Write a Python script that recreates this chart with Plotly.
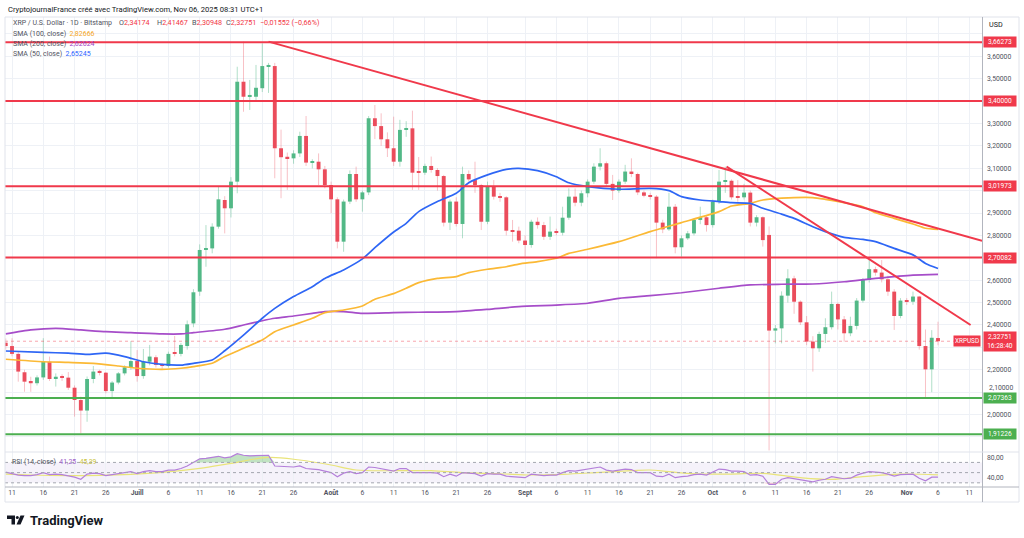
import plotly.graph_objects as go
import pandas as pd

# ---------------- data ----------------
dates = pd.date_range("2025-06-10", "2025-11-06", freq="D")

opens = [
    2.321, 2.306, 2.271, 2.189, 2.150, 2.140, 2.166, 2.236, 2.159, 2.172, 2.165, 2.120, 2.065, 2.018, 2.159, 2.195, 2.187, 2.105, 2.143, 2.184, 2.211,
    2.239, 2.172, 2.236, 2.256, 2.222, 2.217, 2.277, 2.271, 2.306, 2.407, 2.549, 2.735, 2.742, 2.839, 2.958, 2.921, 3.040, 3.486, 3.419, 3.419, 3.457, 3.556, 3.556, 3.189, 3.151, 3.144, 3.166, 3.244, 3.125, 3.129, 3.095,
    3.025, 2.961, 2.772, 2.951, 3.074, 2.961, 2.992, 3.323, 3.288, 3.229, 3.189, 3.129, 3.271, 3.278, 3.085, 3.080, 3.110, 3.092, 3.065, 2.857, 2.951, 2.851, 3.074, 3.047, 3.025, 2.861, 3.018, 2.973, 2.970, 2.821, 2.821,
    2.777, 2.757, 2.861, 2.846, 2.794, 2.817, 2.812, 2.879, 2.973, 2.946, 2.988, 3.040, 3.107, 3.122, 3.030, 3.000, 3.040, 3.085, 3.074, 2.992, 2.977, 2.973, 2.857, 2.827, 2.928, 2.747, 2.787, 2.809, 2.869, 2.881,
    2.846, 2.951, 3.040, 3.044, 2.973, 2.970, 2.991, 2.857, 2.881, 2.802, 2.375, 2.385, 2.531, 2.608, 2.504, 2.412, 2.326, 2.296, 2.360, 2.390, 2.494, 2.425, 2.363, 2.396, 2.509, 2.601, 2.649, 2.634, 2.604, 2.549, 2.440,
    2.509, 2.504, 2.527, 2.306, 2.202, 2.34174,
]
highs = [
    2.340, 2.341, 2.280, 2.200, 2.169, 2.175, 2.341, 2.259, 2.184, 2.180, 2.190, 2.130, 2.080, 2.170, 2.217, 2.200, 2.190, 2.150, 2.190, 2.220, 2.328,
    2.288, 2.293, 2.311, 2.265, 2.230, 2.281, 2.351, 2.320, 2.420, 2.560, 2.760, 2.846, 2.854, 3.018, 2.975, 3.060, 3.553, 3.665, 3.494, 3.561, 3.657, 3.570, 3.570, 3.272, 3.170, 3.180, 3.263, 3.333, 3.140, 3.166, 3.110,
    3.040, 2.970, 2.960, 3.090, 3.107, 3.000, 3.333, 3.382, 3.345, 3.260, 3.330, 3.316, 3.310, 3.357, 3.150, 3.120, 3.152, 3.100, 3.070, 2.960, 2.970, 3.107, 3.090, 3.129, 3.030, 3.040, 3.047, 2.990, 2.975, 2.869, 2.839,
    2.800, 2.870, 2.880, 2.860, 2.884, 2.830, 2.928, 3.010, 3.010, 3.000, 3.050, 3.122, 3.189, 3.130, 3.070, 3.050, 3.115, 3.144, 3.080, 3.000, 2.990, 2.980, 2.870, 2.990, 2.940, 2.800, 2.820, 2.875, 2.928, 2.890,
    2.960, 3.092, 3.107, 3.050, 3.047, 3.030, 3.000, 2.890, 2.885, 2.840, 2.400, 2.550, 2.649, 2.620, 2.510, 2.440, 2.350, 2.370, 2.430, 2.549, 2.500, 2.440, 2.437, 2.520, 2.610, 2.690, 2.660, 2.690, 2.620, 2.560, 2.520,
    2.520, 2.549, 2.530, 2.380, 2.377, 2.41467,
]
lows = [
    2.290, 2.260, 2.147, 2.102, 2.102, 2.130, 2.155, 2.150, 2.125, 2.150, 2.110, 1.991, 1.916, 1.968, 2.140, 2.175, 2.095, 2.077, 2.135, 2.175, 2.200,
    2.147, 2.160, 2.220, 2.210, 2.205, 2.210, 2.260, 2.260, 2.290, 2.390, 2.530, 2.660, 2.720, 2.830, 2.809, 2.880, 2.988, 3.352, 3.360, 3.397, 3.440, 3.436, 3.055, 2.966, 3.003, 3.120, 3.150, 3.110, 3.099, 3.025, 3.010,
    2.899, 2.742, 2.727, 2.940, 2.950, 2.906, 2.980, 3.230, 3.200, 3.150, 3.110, 3.107, 3.240, 3.003, 3.003, 3.070, 3.080, 3.000, 2.840, 2.824, 2.840, 2.787, 3.040, 2.990, 2.824, 2.850, 2.960, 2.950, 2.800, 2.772, 2.765,
    2.705, 2.745, 2.830, 2.780, 2.780, 2.800, 2.800, 2.870, 2.930, 2.930, 2.970, 3.030, 3.090, 3.020, 2.958, 2.990, 3.030, 3.060, 2.980, 2.970, 2.960, 2.698, 2.810, 2.820, 2.720, 2.705, 2.780, 2.800, 2.850, 2.817,
    2.835, 2.940, 2.990, 2.960, 2.950, 2.960, 2.840, 2.840, 2.750, 1.840, 2.318, 2.318, 2.500, 2.450, 2.400, 2.310, 2.192, 2.280, 2.320, 2.380, 2.380, 2.326, 2.350, 2.380, 2.500, 2.590, 2.620, 2.590, 2.530, 2.378, 2.430,
    2.490, 2.490, 2.290, 2.073, 2.100, 2.30948,
]
closes = [
    2.306, 2.271, 2.192, 2.147, 2.140, 2.166, 2.236, 2.159, 2.169, 2.165, 2.120, 2.065, 2.018, 2.159, 2.192, 2.187, 2.105, 2.143, 2.184, 2.211, 2.239,
    2.172, 2.236, 2.259, 2.222, 2.217, 2.271, 2.274, 2.311, 2.403, 2.546, 2.735, 2.742, 2.839, 2.961, 2.921, 3.040, 3.486, 3.419, 3.427, 3.459, 3.556, 3.561, 3.189, 3.149, 3.144, 3.166, 3.244, 3.125, 3.129, 3.095, 3.025,
    2.961, 2.772, 2.951, 3.074, 2.961, 2.992, 3.323, 3.288, 3.229, 3.189, 3.129, 3.271, 3.278, 3.080, 3.080, 3.110, 3.092, 3.065, 2.857, 2.951, 2.851, 3.074, 3.050, 3.025, 2.861, 3.018, 2.973, 2.970, 2.821, 2.817, 2.777,
    2.757, 2.861, 2.846, 2.794, 2.817, 2.812, 2.879, 2.973, 2.946, 2.988, 3.040, 3.107, 3.122, 3.030, 3.000, 3.040, 3.085, 3.074, 2.992, 2.977, 2.973, 2.857, 2.827, 2.928, 2.747, 2.787, 2.809, 2.869, 2.881, 2.846,
    2.951, 3.040, 3.044, 2.970, 2.970, 2.991, 2.857, 2.881, 2.779, 2.375, 2.385, 2.531, 2.608, 2.504, 2.412, 2.326, 2.296, 2.360, 2.390, 2.494, 2.425, 2.363, 2.396, 2.509, 2.601, 2.649, 2.634, 2.604, 2.549, 2.440, 2.509,
    2.504, 2.527, 2.306, 2.202, 2.34303, 2.32751,
]
rsi = [
    51, 48, 45, 44, 44, 46, 50, 46, 47, 46, 44, 41, 37, 47, 49, 48, 44, 46, 48, 50, 52,
    48, 52, 54, 52, 52, 55, 55, 58, 63, 70, 77, 78, 80, 82, 79, 81, 87, 84, 83, 83, 84, 84, 63, 62, 61, 61, 63, 58, 57, 56, 53,
    50, 42, 49, 52, 48, 50, 61, 60, 58, 56, 53, 58, 58, 50, 50, 51, 50, 49, 42, 47, 43, 50, 49, 48, 43, 48, 47, 47, 43, 42, 41,
    40, 47, 46, 44, 45, 45, 50, 54, 53, 55, 57, 60, 61, 55, 53, 55, 57, 56, 50, 50, 50, 43, 42, 47, 40, 42, 43, 46, 47, 45,
    51, 57, 56, 53, 53, 52, 45, 46, 43, 27, 27, 37, 40, 38, 35, 33, 32, 35, 37, 42, 40, 38, 39, 45, 49, 52, 51, 50, 47, 43, 46,
    46, 47, 39, 34, 41, 41.25,
]

rsi_ma_dates = ["2025-06-10", "2025-06-14", "2025-06-20", "2025-06-25", "2025-06-30", "2025-07-05", "2025-07-11",
                "2025-07-16", "2025-07-22", "2025-07-27", "2025-08-01", "2025-08-05", "2025-08-12", "2025-08-17",
                "2025-08-22", "2025-08-28", "2025-09-02", "2025-09-07", "2025-09-13", "2025-09-18", "2025-09-21",
                "2025-09-24", "2025-09-29", "2025-10-04", "2025-10-09", "2025-10-15", "2025-10-20", "2025-10-25",
                "2025-10-31", "2025-11-06"]
rsi_ma = [47.2, 45.3, 44.0, 44.6, 46.6, 50.5, 58.4, 68.2, 79.9, 74.7, 64.9, 55.1, 53.8, 53.8, 49.9, 47.8, 45.3,
          46.6, 50.5, 53.8, 55.1, 51.8, 47.2, 47.2, 48.5, 40.0, 36.8, 42.0, 47.2, 45.39]

sma50_dates = ["2025-06-10", "2025-06-16", "2025-06-20", "2025-06-23", "2025-06-26", "2025-06-29", "2025-07-02",
               "2025-07-05", "2025-07-08", "2025-07-10", "2025-07-13", "2025-07-15", "2025-07-18", "2025-07-21",
               "2025-07-23", "2025-07-26", "2025-07-29", "2025-07-31", "2025-08-03", "2025-08-06", "2025-08-08",
               "2025-08-11", "2025-08-13", "2025-08-15", "2025-08-18", "2025-08-21", "2025-08-23", "2025-08-26",
               "2025-08-29", "2025-08-31", "2025-09-03", "2025-09-06", "2025-09-08", "2025-09-11", "2025-09-16",
               "2025-09-21", "2025-09-24", "2025-09-26", "2025-09-29", "2025-10-02", "2025-10-04", "2025-10-07",
               "2025-10-09", "2025-10-12", "2025-10-14", "2025-10-17", "2025-10-19", "2025-10-22", "2025-10-25",
               "2025-10-27", "2025-10-30", "2025-11-02", "2025-11-04", "2025-11-06"]
sma50 = [2.284, 2.278, 2.274, 2.269, 2.274, 2.259, 2.236, 2.224, 2.221, 2.229, 2.244, 2.285, 2.355, 2.430, 2.474,
         2.527, 2.571, 2.608, 2.646, 2.695, 2.745, 2.815, 2.854, 2.906, 2.951, 2.988, 3.035, 3.070, 3.095, 3.099,
         3.089, 3.062, 3.035, 3.018, 3.006, 3.010, 3.000, 2.973, 2.958, 2.951, 2.946, 2.943, 2.921, 2.895, 2.876,
         2.839, 2.817, 2.791, 2.782, 2.772, 2.742, 2.713, 2.675, 2.65245]

sma100_dates = ["2025-06-10", "2025-06-16", "2025-06-20", "2025-06-24", "2025-06-28", "2025-07-01", "2025-07-05",
                "2025-07-08", "2025-07-10", "2025-07-13", "2025-07-15", "2025-07-18", "2025-07-21", "2025-07-23",
                "2025-07-26", "2025-07-29", "2025-07-31", "2025-08-03", "2025-08-06", "2025-08-08", "2025-08-11",
                "2025-08-13", "2025-08-15", "2025-08-18", "2025-08-21", "2025-08-23", "2025-08-26", "2025-08-29",
                "2025-08-31", "2025-09-03", "2025-09-06", "2025-09-08", "2025-09-11", "2025-09-16", "2025-09-21",
                "2025-09-26", "2025-10-02", "2025-10-04", "2025-10-07", "2025-10-09", "2025-10-12", "2025-10-14",
                "2025-10-17", "2025-10-19", "2025-10-22", "2025-10-25", "2025-10-27", "2025-10-30", "2025-11-02",
                "2025-11-04", "2025-11-06"]
sma100 = [2.247, 2.236, 2.233, 2.229, 2.217, 2.207, 2.202, 2.207, 2.214, 2.229, 2.259, 2.296, 2.333, 2.370, 2.400,
          2.430, 2.455, 2.467, 2.485, 2.515, 2.540, 2.564, 2.589, 2.608, 2.616, 2.634, 2.649, 2.660, 2.672, 2.683,
          2.698, 2.720, 2.738, 2.772, 2.817, 2.857, 2.906, 2.931, 2.943, 2.958, 2.966, 2.969, 2.969, 2.961, 2.946,
          2.928, 2.901, 2.876, 2.851, 2.832, 2.82666]

sma200_dates = ["2025-06-10", "2025-06-14", "2025-06-18", "2025-06-22", "2025-06-26", "2025-06-30", "2025-07-05",
                "2025-07-08", "2025-07-10", "2025-07-15", "2025-07-18", "2025-07-21", "2025-07-23", "2025-07-26",
                "2025-07-29", "2025-07-31", "2025-08-03", "2025-08-06", "2025-08-11", "2025-08-15", "2025-08-21",
                "2025-08-26", "2025-08-31", "2025-09-06", "2025-09-11", "2025-09-16", "2025-09-21", "2025-09-26",
                "2025-10-02", "2025-10-07", "2025-10-12", "2025-10-17", "2025-10-22", "2025-10-27", "2025-11-02",
                "2025-11-06"]
sma200 = [2.360, 2.378, 2.385, 2.378, 2.370, 2.366, 2.360, 2.360, 2.366, 2.381, 2.400, 2.419, 2.430, 2.440, 2.452,
          2.460, 2.460, 2.452, 2.455, 2.457, 2.460, 2.470, 2.482, 2.489, 2.497, 2.519, 2.531, 2.544, 2.564, 2.579,
          2.582, 2.583, 2.593, 2.608, 2.623, 2.62624]

red_levels = [3.66273, 3.40000, 3.01973, 2.70082]
green_levels = [2.07363, 1.91226]
trend_starts = [("2025-07-22", 3.665), ("2025-10-03 05:00", 3.107)]
trend_ends = [("2025-11-13 01:00", 2.776), ("2025-11-11 05:00", 2.400)]

last_price = 2.32751
price_ticks = [3.7, 3.6, 3.5, 3.4, 3.3, 3.2, 3.1, 3.0, 2.9, 2.8, 2.7, 2.6, 2.5, 2.4, 2.3, 2.2, 2.1, 2.0, 1.9]
hidden_ticks = [3.7, 3.4, 3.0, 2.7, 2.3, 2.1, 1.9]  # covered by (or crowded by) the price tags
nudged_ticks = [2.1]  # partly visible above the 2,07363 tag
time_tick_dates = ["2025-06-11", "2025-06-16", "2025-06-21", "2025-06-26", "2025-07-01", "2025-07-06", "2025-07-11",
                   "2025-07-16", "2025-07-21", "2025-07-26", "2025-08-01", "2025-08-06", "2025-08-11", "2025-08-16",
                   "2025-08-21", "2025-08-26", "2025-09-01", "2025-09-06", "2025-09-11", "2025-09-16", "2025-09-21",
                   "2025-09-26", "2025-10-01", "2025-10-06", "2025-10-11", "2025-10-16", "2025-10-21", "2025-10-26",
                   "2025-11-01", "2025-11-06", "2025-11-11"]
time_tick_labels = ["11", "16", "21", "26", "<b>Juill</b>", "6", "11", "16", "21", "26", "<b>Août</b>", "6", "11",
                    "16", "21", "26", "<b>Sept</b>", "6", "11", "16", "21", "26", "<b>Oct</b>", "6", "11", "16",
                    "21", "26", "<b>Nov</b>", "6", "11"]

assert len(dates) == len(opens) == len(highs) == len(lows) == len(closes) == len(rsi)
assert len(sma50) == len(sma50_dates) and len(sma100) == len(sma100_dates) and len(sma200) == len(sma200_dates)
assert len(rsi_ma) == len(rsi_ma_dates)

# ---------------- style ----------------
W, H = 1024, 538
FONT = "Roboto"
UP = "#53B987"
DN = "#EB4D5C"
UP_W = "rgba(83,185,135,0.45)"
DN_W = "rgba(235,77,92,0.35)"
RED = "#F0394B"
GREEN = "#4CAF50"
GRID = "#EEF1F6"
TXT = "#50535E"
VRED = "#F23645"


def fx(px):
    return px / W


def fy(py):
    return 1 - py / H


def fmt(v, n=5):
    return f"{v:.{n}f}".replace(".", ",").replace("-", "−")


fig = go.Figure()

# wicks
for up in (True, False):
    wx, wy = [], []
    for d, o, h, l, c in zip(dates, opens, highs, lows, closes):
        if (c >= o) == up:
            wx += [d, d, None]
            wy += [l, h, None]
    fig.add_trace(go.Scatter(x=wx, y=wy, mode="lines", line=dict(color=UP_W if up else DN_W, width=1),
                             hoverinfo="skip", showlegend=False, xaxis="x", yaxis="y"))

# bodies
for up in (True, False):
    bx, bb, bh = [], [], []
    for d, o, c in zip(dates, opens, closes):
        if (c >= o) == up:
            bx.append(d)
            bb.append(min(o, c))
            bh.append(max(abs(c - o), 0.004))
    fig.add_trace(go.Bar(x=bx, y=bh, base=bb, width=0.62 * 86400000,
                         marker=dict(color=UP if up else DN, line=dict(width=0)),
                         hoverinfo="skip", showlegend=False, xaxis="x", yaxis="y"))

# moving averages
for dts, vals, col in ((sma200_dates, sma200, "#A64DC9"), (sma100_dates, sma100, "#FBB935"),
                       (sma50_dates, sma50, "#2E66F5")):
    fig.add_trace(go.Scatter(x=dts, y=vals, mode="lines", line=dict(color=col, width=1.7, shape="spline", smoothing=0.6),
                             hoverinfo="skip", showlegend=False, xaxis="x", yaxis="y"))

# RSI fills
fig.add_trace(go.Scatter(x=dates, y=[70] * len(dates), mode="lines", line=dict(width=0, color="rgba(0,0,0,0)"),
                         hoverinfo="skip", showlegend=False, xaxis="x2", yaxis="y2"))
fig.add_trace(go.Scatter(x=dates, y=[max(v, 70) for v in rsi], mode="lines", line=dict(width=0, color="rgba(0,0,0,0)"),
                         fill="tonexty", fillcolor="rgba(76,175,80,0.35)",
                         hoverinfo="skip", showlegend=False, xaxis="x2", yaxis="y2"))
fig.add_trace(go.Scatter(x=dates, y=[30] * len(dates), mode="lines", line=dict(width=0, color="rgba(0,0,0,0)"),
                         hoverinfo="skip", showlegend=False, xaxis="x2", yaxis="y2"))
fig.add_trace(go.Scatter(x=dates, y=[min(v, 30) for v in rsi], mode="lines", line=dict(width=0, color="rgba(0,0,0,0)"),
                         fill="tonexty", fillcolor="rgba(242,54,69,0.25)",
                         hoverinfo="skip", showlegend=False, xaxis="x2", yaxis="y2"))
fig.add_trace(go.Scatter(x=rsi_ma_dates, y=rsi_ma, mode="lines", line=dict(color="#E9E47A", width=1.2, shape="spline"),
                         hoverinfo="skip", showlegend=False, xaxis="x2", yaxis="y2"))
fig.add_trace(go.Scatter(x=dates, y=rsi, mode="lines", line=dict(color="#B47FDA", width=1.2),
                         hoverinfo="skip", showlegend=False, xaxis="x2", yaxis="y2"))

shapes = []
# RSI band and levels
shapes.append(dict(type="rect", xref="x2 domain", yref="y2", x0=0, x1=1, y0=30, y1=70,
                   fillcolor="rgba(126,87,194,0.08)", line=dict(width=0), layer="below"))
for lv in (70, 50, 30):
    shapes.append(dict(type="line", xref="x2 domain", yref="y2", x0=0, x1=1, y0=lv, y1=lv,
                       line=dict(color="#A3A6AF", width=1, dash="dot")))
# last price dotted line
shapes.append(dict(type="line", xref="x domain", yref="y", x0=0, x1=1, y0=last_price, y1=last_price,
                   line=dict(color="rgba(240,57,75,0.45)", width=1, dash="dot")))
# horizontal levels
for lv in red_levels:
    shapes.append(dict(type="line", xref="x domain", yref="y", x0=0, x1=1, y0=lv, y1=lv,
                       line=dict(color=RED, width=2)))
for lv in green_levels:
    shapes.append(dict(type="line", xref="x domain", yref="y", x0=0, x1=1, y0=lv, y1=lv,
                       line=dict(color=GREEN, width=2)))
# trend lines
for (d0, p0), (d1, p1) in zip(trend_starts, trend_ends):
    shapes.append(dict(type="line", xref="x", yref="y", x0=d0, y0=p0, x1=d1, y1=p1,
                       line=dict(color=RED, width=2)))
# frame
shapes.append(dict(type="rect", xref="paper", yref="paper", x0=fx(5), x1=fx(1019), y0=fy(502), y1=fy(17),
                   line=dict(color="#E0E3EB", width=1)))
shapes.append(dict(type="line", xref="paper", yref="paper", x0=fx(982.5), x1=fx(982.5), y0=fy(502), y1=fy(17),
                   line=dict(color="#B2B5BE", width=1)))
shapes.append(dict(type="line", xref="paper", yref="paper", x0=fx(5), x1=fx(1019), y0=fy(487), y1=fy(487),
                   line=dict(color="#B2B5BE", width=1)))
shapes.append(dict(type="line", xref="paper", yref="paper", x0=fx(5), x1=fx(1019), y0=fy(452), y1=fy(452),
                   line=dict(color="#E0E3EB", width=1)))
# TradingView logo glyph
shapes.append(dict(type="path", xref="paper", yref="paper",
                   path=f"M {fx(7)} {fy(515.5)} L {fx(15)} {fy(515.5)} L {fx(15)} {fy(524.5)} L {fx(11.5)} {fy(524.5)} "
                        f"L {fx(11.5)} {fy(519)} L {fx(7)} {fy(519)} Z",
                   fillcolor="#131722", line=dict(width=0)))
shapes.append(dict(type="circle", xref="paper", yref="paper", x0=fx(15.8), x1=fx(18.8), y0=fy(519), y1=fy(516),
                   fillcolor="#131722", line=dict(width=0)))
shapes.append(dict(type="path", xref="paper", yref="paper",
                   path=f"M {fx(20.5)} {fy(515.5)} L {fx(24.5)} {fy(515.5)} L {fx(20.5)} {fy(524.5)} L {fx(16.5)} {fy(524.5)} Z",
                   fillcolor="#131722", line=dict(width=0)))

ann = []


def text(px, py, s, size=7.5, color="#131722", anchor="left"):
    ann.append(dict(x=fx(px), y=fy(py), xref="paper", yref="paper", text=s, showarrow=False,
                    xanchor=anchor, yanchor="middle", font=dict(family=FONT, size=size, color=color)))


def vspan(v, col=VRED):
    return f"<span style='color:{col}'>{v}</span>"


chg = closes[-1] - closes[-2]
pct = chg / closes[-2] * 100
text(6, 9, "CryptojournalFrance créé avec TradingView.com, Nov 06, 2025 08:31 UTC+1", 7.6)
text(11, 23, "XRP / U.S. Dollar · 1D · Bitstamp", 7.0, TXT)
text(117, 23, "O" + vspan(fmt(opens[-1])), 7.2, TXT)
text(155, 23, "H" + vspan(fmt(highs[-1])), 7.2, TXT)
text(190, 23, "B" + vspan(fmt(lows[-1])), 7.2, TXT)
text(224, 23, "C" + vspan(fmt(closes[-1])), 7.2, TXT)
text(258, 23, vspan(fmt(chg) + " (" + fmt(pct, 2) + "%)"), 7.2, TXT)
text(11, 34, "SMA (100, close)  " + vspan(fmt(sma100[-1]), "#F5A623"), 7.0, TXT)
text(11, 44, "SMA (200, close)  " + vspan(fmt(sma200[-1]), "#9C3FC6"), 7.0, TXT)
text(11, 54, "SMA (50, close)  " + vspan(fmt(sma50[-1]), "#2962FF"), 7.0, TXT)
text(10, 462, "RSI (14, close)  " + vspan(fmt(rsi[-1], 2), "#9C5CC8") + "  " + vspan(fmt(rsi_ma[-1], 2), "#C9C23A"),
     6.9, TXT)
text(996, 25, "USD", 7.2, "#131722", "center")
text(28, 520, "<b>TradingView</b>", 13, "#131722")

# partly-covered axis label just above the green tag
for v in nudged_ticks:
    ann.append(dict(x=fx(987), y=v, xref="paper", yref="y", text=fmt(v), showarrow=False, xanchor="left",
                    yanchor="bottom", yshift=-2, font=dict(family=FONT, size=6.8, color=TXT)))


def tag(level, label, color):
    ann.append(dict(x=fx(983), y=level, xref="paper", yref="y", text=label, showarrow=False,
                    xanchor="left", yanchor="middle", bgcolor=color, borderpad=1, width=30,
                    font=dict(family=FONT, size=6.6, color="white")))


for lv in red_levels:
    tag(lv, fmt(lv), RED)
for lv in green_levels:
    tag(lv, fmt(lv), GREEN)
tag(last_price, fmt(last_price) + "<br>16:28:40", RED)
ann.append(dict(x=fx(981), y=last_price, xref="paper", yref="y", text="XRPUSD", showarrow=False,
                xanchor="right", yanchor="middle", bgcolor=RED, borderpad=1,
                font=dict(family=FONT, size=6.4, color="white")))

x_range = ["2025-06-09 21:10", "2025-11-13 00:45"]

fig.update_layout(
    width=W, height=H, autosize=False, margin=dict(l=0, r=0, t=0, b=0),
    paper_bgcolor="white", plot_bgcolor="white", showlegend=False, barmode="overlay",
    font=dict(family=FONT, size=7, color=TXT),
    xaxis=dict(domain=[fx(5), fx(982)], range=x_range, type="date", anchor="y",
               tickvals=time_tick_dates, showticklabels=False, showgrid=True, gridcolor=GRID, gridwidth=1,
               zeroline=False, showline=False, ticks="", fixedrange=True),
    yaxis=dict(domain=[fy(452), fy(17)], range=[1.833, 3.775], anchor="x", side="right",
               tickvals=price_ticks,
               ticktext=["" if any(abs(v - h) < 1e-9 for h in hidden_ticks) else fmt(v) for v in price_ticks],
               tickfont=dict(family=FONT, size=6.8, color=TXT), showgrid=True, gridcolor=GRID,
               zeroline=False, showline=False, ticks="", ticklabelstandoff=4),
    xaxis2=dict(domain=[fx(5), fx(982)], range=x_range, type="date", anchor="y2", matches="x",
                tickvals=time_tick_dates, ticktext=time_tick_labels, showticklabels=True,
                tickfont=dict(family=FONT, size=6.8, color=TXT), showgrid=True, gridcolor=GRID,
                zeroline=False, showline=False, ticks=""),
    yaxis2=dict(domain=[fy(487), fy(452)], range=[21.8, 90.4], anchor="x2", side="right",
                tickvals=[80, 40], ticktext=["80,00", "40,00"], tickfont=dict(family=FONT, size=6.8, color=TXT),
                showgrid=False, zeroline=False, showline=False, ticks="", ticklabelstandoff=4),
    shapes=shapes, annotations=ann,
)

fig.write_html("out.html")
